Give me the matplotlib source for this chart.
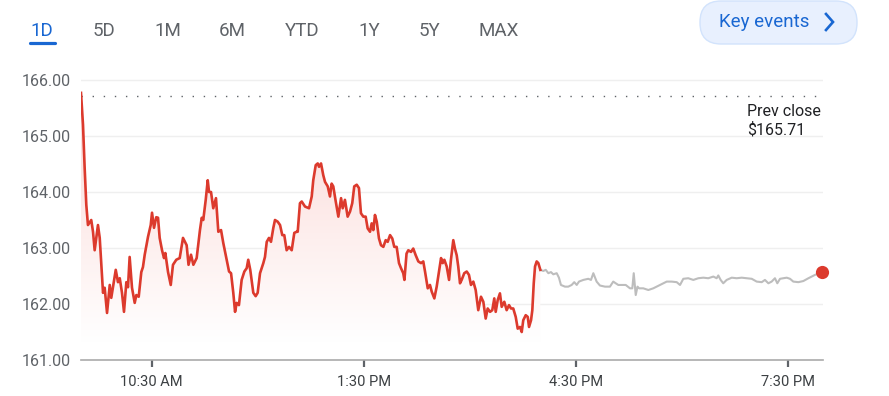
import matplotlib
matplotlib.use("Agg")
import matplotlib.pyplot as plt
import numpy as np
from matplotlib.patches import FancyBboxPatch
from matplotlib.colors import LinearSegmentedColormap

plt.rcParams['font.family'] = ['Roboto', 'DejaVu Sans']

# ---- data ----
# minutes after 9:30 AM open, regular session
reg_minutes = [0, 1.7, 3.1, 4.5, 5.9, 8.7, 10.2, 11.6, 14.4, 15.9, 18.7, 20.1, 22.1, 24.4, 25.7,
               29.5, 31.4, 32.9, 34.8, 36.5, 38.5, 39.9, 41.3, 43.3, 45.6, 47.0, 49.0, 51.2, 52.6,
               54.1, 56.9, 59.2, 60.3, 62.0, 63.9, 65.4, 66.8, 68.8, 70.5, 71.6, 73.9, 76.2, 78.1,
               80.9, 83.8, 86.6, 89.7, 91.3, 93.4, 95.4, 98.2, 101.0, 102.5, 103.8, 105.9, 107.6,
               108.7, 110.4, 112.3, 114.6, 116.6, 118.9, 120.8, 123.7, 125.7, 127.4, 129.3, 130.8,
               132.2, 134.1, 136.4, 138.7, 140.7, 142.0, 143.7, 146.3, 148.3, 150.0, 152.0, 154.8,
               156.2, 157.7, 159.6, 161.3, 163.3, 164.7, 167.0, 169.0, 170.9, 172.6, 174.6, 176.6,
               178.9, 181.1, 183.1, 184.0, 185.9, 187.4, 190.2, 193.6, 195.9, 197.2, 199.3, 201.0,
               202.1, 203.8, 205.7, 207.2, 209.5, 211.4, 212.8, 214.2, 216.3, 218.5, 220.8, 222.2,
               224.1, 226.4, 228.4, 230.3, 232.0, 234.1, 236.0, 237.7, 239.7, 241.7, 243.4, 245.4,
               246.8, 248.2, 249.6, 251.1, 253.0, 254.7, 256.7, 258.7, 260.4, 262.4, 264.3, 266.0,
               268.0, 270.0, 271.7, 273.6, 274.6, 276.4, 277.9, 280.2, 282.1, 284.2, 286.4, 288.7,
               290.6, 292.1, 294.4, 296.3, 297.8, 300.0, 302.0, 304.0, 305.7, 307.1, 308.5, 310.5,
               312.5, 314.1, 316.1, 317.5, 319.0, 320.3, 321.8, 323.2, 325.4, 327.5, 329.4, 331.1,
               333.1, 335.1, 337.3, 339.6, 341.6, 343.6, 345.3, 347.3, 349.2, 350.9, 352.1, 353.8,
               355.7, 357.2, 359.4, 361.4, 363.4, 365.1, 367.0, 369.1, 370.8, 372.7, 374.2, 375.5,
               377.6, 379.3, 380.4, 382.1, 383.2, 384.4, 385.5, 386.9, 388.3, 390.0]
reg_prices = [165.77, 165.20, 164.43, 163.77, 163.41, 163.50, 163.29, 162.96, 163.41, 163.18, 162.20,
              162.29, 161.84, 162.34, 162.11, 162.61, 162.39, 162.46, 162.20, 161.86, 162.39, 162.30,
              162.84, 162.29, 162.02, 162.16, 162.13, 162.57, 162.66, 162.88, 163.20, 163.41, 163.63,
              163.36, 163.55, 163.54, 163.18, 162.96, 162.82, 162.91, 162.57, 162.34, 162.70, 162.79,
              162.82, 163.18, 163.05, 162.70, 162.88, 162.70, 162.82, 163.32, 163.54, 163.50, 163.86,
              164.21, 164.00, 164.00, 163.71, 163.89, 163.29, 163.32, 163.09, 162.79, 162.58, 162.55,
              162.20, 161.86, 162.02, 161.98, 162.43, 162.58, 162.64, 162.79, 162.61, 162.20, 162.14,
              162.20, 162.55, 162.73, 162.84, 163.11, 163.18, 163.11, 163.36, 163.50, 163.47, 163.41,
              163.23, 163.23, 162.96, 163.02, 162.96, 163.27, 163.29, 163.29, 163.80, 163.83, 163.74,
              163.71, 163.92, 164.21, 164.48, 164.51, 164.45, 164.51, 164.30, 164.18, 164.10, 163.92,
              164.15, 164.10, 163.83, 163.56, 163.89, 163.71, 163.86, 163.56, 163.65, 163.80, 164.10,
              164.13, 164.07, 163.62, 163.56, 163.56, 163.35, 163.29, 163.44, 163.32, 163.59, 163.47,
              163.17, 163.05, 163.02, 163.14, 163.11, 163.23, 163.17, 163.02, 163.02, 162.73, 162.64,
              162.55, 162.43, 162.90, 162.96, 162.93, 162.99, 162.87, 162.76, 162.73, 162.76, 162.58,
              162.28, 162.34, 162.22, 162.10, 162.31, 162.58, 162.82, 162.73, 162.79, 162.67, 162.43,
              162.79, 163.14, 162.99, 162.87, 162.67, 162.37, 162.43, 162.55, 162.58, 162.52, 162.34,
              162.40, 162.25, 161.89, 162.13, 162.04, 161.74, 161.92, 161.86, 161.89, 162.10, 161.86,
              162.07, 162.19, 161.95, 162.04, 161.89, 161.98, 161.92, 161.92, 161.77, 161.56, 161.59,
              161.50, 161.71, 161.80, 161.77, 161.59, 161.71, 161.89, 162.37, 162.67, 162.76, 162.73,
              162.61]

# after-hours session
ah_minutes = [390.0, 392.5, 394.6, 396.8, 399.0, 401.0, 403.9, 405.8, 407.5, 410.9, 413.7, 416.6,
              418.8, 420.9, 422.8, 426.5, 430.7, 433.0, 435.0, 437.8, 440.6, 444.9, 449.1, 451.9,
              454.0, 456.2, 459.6, 462.5, 466.1, 468.1, 469.3, 471.0, 472.5, 473.8, 477.4, 481.7,
              485.9, 491.6, 497.3, 501.5, 505.8, 508.6, 511.4, 515.6, 519.9, 524.1, 528.4, 532.6,
              536.9, 539.7, 541.1, 543.1, 545.3, 548.2, 552.5, 556.7, 561.0, 565.2, 569.5, 573.7,
              578.0, 580.7, 583.6, 586.4, 589.2, 591.2, 593.5, 596.3, 599.2, 602.0, 604.8, 609.1,
              613.3, 617.6, 620.4, 623.2, 626.9, 629.0]
ah_prices = [162.61, 162.59, 162.61, 162.55, 162.57, 162.53, 162.55, 162.47, 162.34, 162.31, 162.31,
             162.34, 162.39, 162.34, 162.40, 162.43, 162.45, 162.43, 162.55, 162.40, 162.33, 162.31,
             162.31, 162.40, 162.37, 162.34, 162.34, 162.34, 162.28, 162.28, 162.55, 162.16, 162.31,
             162.28, 162.28, 162.25, 162.28, 162.34, 162.40, 162.40, 162.39, 162.34, 162.45, 162.46,
             162.43, 162.46, 162.47, 162.46, 162.49, 162.46, 162.51, 162.43, 162.37, 162.43, 162.47,
             162.46, 162.47, 162.46, 162.45, 162.40, 162.39, 162.43, 162.37, 162.40, 162.46, 162.37,
             162.45, 162.46, 162.47, 162.45, 162.40, 162.39, 162.41, 162.46, 162.49, 162.52, 162.55,
             162.57]

prev_close = 165.71
y_ticks = [161, 162, 163, 164, 165, 166]
x_tick_minutes = [60, 240, 420, 600]
x_tick_labels = ["10:30 AM", "1:30 PM", "4:30 PM", "7:30 PM"]
ranges = ["1D", "5D", "1M", "6M", "YTD", "1Y", "5Y", "MAX"]

# ---- figure ----
W, H = 889, 396
fig = plt.figure(figsize=(W / 100, H / 100), dpi=100)
fig.patch.set_facecolor('white')

# overlay in pixel coordinates for the header widgets
ov = fig.add_axes([0, 0, 1, 1])
ov.set_xlim(0, W)
ov.set_ylim(H, 0)
ov.axis('off')

x0, x1 = 0, 630
ylo, yhi = 161.0, 166.05
ax_left, ax_right = 81, 823
ax_bottom_px, ax_top_px = 360, 80 - 0.05 * 56
ax = fig.add_axes([ax_left / W, 1 - ax_bottom_px / H, (ax_right - ax_left) / W,
                   (ax_bottom_px - ax_top_px) / H])
ax.set_xlim(x0, x1)
ax.set_ylim(ylo, yhi)
ax.patch.set_alpha(0)

red = '#dc3a2d'
grey = '#bdbdbd'

# gridlines
for yv in y_ticks[1:]:
    ax.axhline(yv, color='#efefef', lw=1.0, zorder=0)

# gradient fill under regular session
poly = ax.fill_between(reg_minutes, reg_prices, ylo, color='none', lw=0)
grad = np.linspace(0, 1, 256).reshape(-1, 1)
cmap = LinearSegmentedColormap.from_list('g', [(1, 1, 1, 1), (0.985, 0.84, 0.83, 1)])
img = ax.imshow(grad, extent=[0, 390, 161.3, 166.0], origin='lower', aspect='auto',
                cmap=cmap, vmin=0, vmax=1, zorder=1)
img.set_clip_path(poly.get_paths()[0], transform=ax.transData)

# prev close dotted line
ax.axhline(prev_close, color='#5f6368', lw=1.0, ls=(0, (1, 7)), zorder=2)

# lines
ax.plot(ah_minutes, ah_prices, color=grey, lw=1.5, zorder=3, solid_joinstyle='round')
ax.plot(reg_minutes, reg_prices, color=red, lw=1.9, zorder=4, solid_joinstyle='round')
ax.plot([ah_minutes[-1]], [ah_prices[-1]], 'o', color=red, ms=9.5, mew=0, zorder=5,
        clip_on=False)

# axes styling
for s in ['top', 'right', 'left']:
    ax.spines[s].set_visible(False)
ax.spines['bottom'].set_color('#aaaaaa')
ax.spines['bottom'].set_linewidth(1.2)
ax.set_yticks(y_ticks)
ax.set_yticklabels([f"{v:.2f}" for v in y_ticks])
ax.tick_params(axis='y', length=0, pad=7, labelsize=11.5, labelcolor='#5f6368')
ax.set_xticks(x_tick_minutes)
ax.set_xticklabels(x_tick_labels)
ax.tick_params(axis='x', length=5, width=1.6, color='#5f6368', pad=6, labelsize=10.5,
               labelcolor='#3c4043')

ax.text(0.898, 0.905, "Prev close\n$165.71", transform=ax.transAxes, ha='left', va='top',
        fontsize=11.5, color='#202124', linespacing=1.2)

# top range selector
xs = [42, 104, 168, 232, 302, 369, 429, 499]
for lbl, xp in zip(ranges, xs):
    ov.text(xp, 31, lbl, ha='center', va='center', fontsize=13.5,
            color='#1967d2' if lbl == '1D' else '#5f6368')
ov.plot([30, 55], [42.5, 42.5], color='#1967d2', lw=2.3, solid_capstyle='round')

# key events pill
pill = FancyBboxPatch((700, 1), 157, 43, boxstyle="round,pad=0,rounding_size=21",
                      facecolor='#e8f0fe', edgecolor='#d2e3fc', lw=1.0)
ov.add_patch(pill)
ov.text(764, 22, "Key events", ha='center', va='center', fontsize=13.5, color='#1967d2')
ov.plot([826, 833, 826], [14, 22, 30], color='#1967d2', lw=1.9, solid_joinstyle='miter')

fig.savefig('out.png', dpi=100, facecolor='white')
